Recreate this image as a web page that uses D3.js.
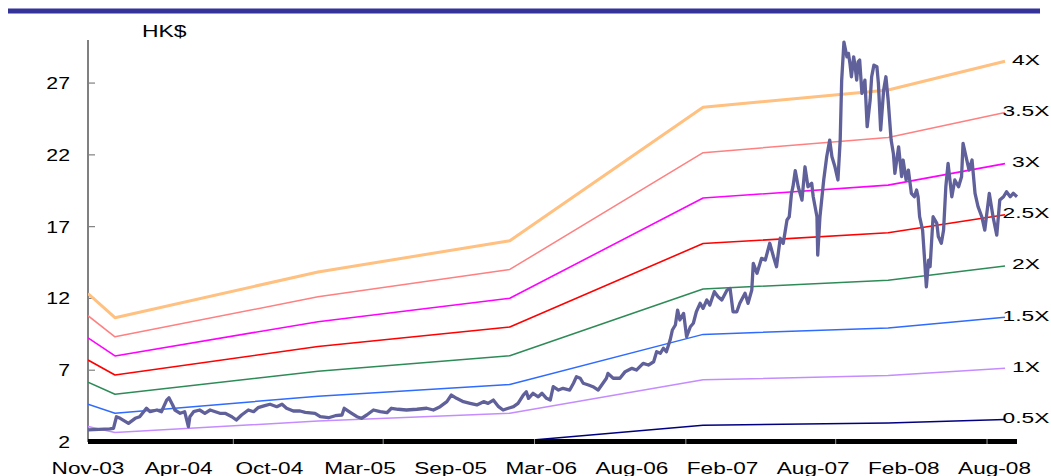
<!DOCTYPE html>
<html>
<head>
<meta charset="utf-8">
<script src="https://cdn.jsdelivr.net/npm/d3@7/dist/d3.min.js"></script>
<style>
  html, body { margin: 0; padding: 0; background: #fff; }
  svg { display: block; font-family: "Liberation Sans", Arial, sans-serif; }
</style>
</head>
<body>
<svg id="chart" width="1051" height="476"></svg>
<script>
// Trading-day index along the category axis (labels every 121 days)
const xLabels = ["Nov-03", "Apr-04", "Oct-04", "Mar-05", "Sep-05", "Mar-06",
                 "Aug-06", "Feb-07", "Aug-07", "Feb-08", "Aug-08"];
const xLabelStep = 121;
const xMinorTicks = [194, 394, 596, 798, 998, 1200];

const yTicks = [2, 7, 12, 17, 22, 27];

// Earnings per share at the points where the P/E bands change slope
const epsDays = [0, 36, 307, 563, 821, 1068, 1224];
const epsValues = [3.085, 2.665, 3.46, 4.005, 6.33, 6.63, 7.13];

const multiples = [4, 3.5, 3, 2.5, 2, 1.5, 1, 0.5];
const multipleLabels = ["4X", "3.5X", "3X", "2.5X", "2X", "1.5X", "1X", "0.5X"];

// Share price (HK$)
const priceDays = [
  0, 29, 34, 38, 43, 54, 63, 69, 78, 83, 92, 98, 105, 108, 113, 116, 123, 129, 134, 136,
  141, 149, 156, 163, 170, 176, 183, 192, 198, 205, 214, 221, 227, 236, 243, 252, 259, 265, 274, 283,
  290, 303, 310, 321, 330, 339, 342, 352, 359, 365, 372, 381, 390, 399, 405, 414, 425, 439, 452, 461,
  470, 479, 485, 492, 501, 510, 519, 528, 534, 541, 548, 554, 561, 568, 574, 581, 585, 588, 594, 601,
  606, 612, 617, 621, 628, 634, 643, 648, 652, 657, 661, 668, 674, 681, 692, 694, 701, 710, 717, 726,
  732, 741, 748, 755, 759, 764, 768, 772, 777, 780, 784, 787, 790, 795, 799, 804, 808, 812, 817, 821,
  826, 830, 836, 841, 846, 853, 857, 861, 866, 870, 877, 881, 886, 888, 893, 899, 904, 910, 915, 919,
  924, 928, 933, 936, 939, 941, 944, 948, 953, 957, 961, 966, 968, 973, 974, 977, 982, 986, 990, 993,
  997, 1001, 1004, 1006, 1009, 1013, 1015, 1017, 1019, 1022, 1024, 1026, 1028, 1030, 1033, 1037, 1040, 1044, 1046, 1049,
  1053, 1055, 1058, 1062, 1065, 1068, 1072, 1075, 1077, 1082, 1086, 1088, 1092, 1095, 1099, 1103, 1106, 1108, 1110, 1114,
  1117, 1119, 1122, 1124, 1128, 1133, 1135, 1139, 1142, 1145, 1148, 1153, 1157, 1162, 1166, 1168, 1173, 1176, 1180, 1184,
  1188, 1193, 1197, 1203, 1208, 1213, 1217, 1222, 1226, 1231, 1235, 1240
];
const priceValues = [
  2.84, 2.91, 2.95, 3.76, 3.65, 3.30, 3.65, 3.76, 4.35, 4.11, 4.23, 4.11, 4.92, 5.08, 4.58, 4.23, 4.00, 4.11, 3.07, 3.76,
  4.11, 4.23, 4.00, 4.23, 4.11, 4.00, 4.00, 3.76, 3.53, 3.88, 4.23, 4.11, 4.39, 4.53, 4.63, 4.46, 4.63, 4.35, 4.16, 4.16,
  4.07, 4.00, 3.76, 3.69, 3.83, 3.88, 4.35, 4.00, 3.76, 3.65, 3.88, 4.23, 4.11, 4.04, 4.35, 4.28, 4.23, 4.28, 4.35, 4.23,
  4.46, 4.81, 5.27, 5.04, 4.81, 4.69, 4.58, 4.81, 4.69, 4.92, 4.46, 4.23, 4.35, 4.46, 4.69, 5.27, 5.50, 5.04, 5.39, 5.15,
  5.39, 5.04, 4.92, 5.85, 5.62, 5.74, 5.62, 6.09, 6.55, 6.44, 6.09, 5.97, 5.85, 5.62, 6.44, 6.78, 6.44, 6.44, 6.90, 7.13,
  7.01, 7.48, 7.36, 7.59, 8.29, 8.18, 8.53, 8.29, 9.10, 9.80, 10.15, 11.19, 10.50, 10.96, 9.33, 10.03, 10.27, 11.07, 11.66, 11.31,
  11.89, 11.54, 12.47, 12.12, 11.89, 12.58, 12.70, 11.07, 11.07, 11.66, 12.36, 11.66, 12.58, 14.44, 13.75, 14.79, 14.67, 15.84, 14.90, 14.21,
  16.19, 15.84, 17.46, 17.69, 19.32, 19.78, 20.90, 19.78, 18.85, 21.17, 19.78, 20.02, 19.08, 17.69, 15.02, 17.69, 20.25, 21.87, 23.03, 21.87,
  21.17, 20.25, 23.03, 27.21, 29.85, 28.83, 29.07, 28.37, 27.44, 28.83, 28.14, 27.21, 28.48, 28.60, 26.28, 27.21, 23.96, 25.82, 27.44, 28.25,
  28.14, 26.98, 23.73, 26.51, 27.44, 25.82, 23.03, 22.10, 20.71, 22.56, 20.48, 21.64, 20.25, 20.94, 19.32, 19.08, 19.55, 19.08, 17.69, 16.76,
  14.44, 12.81, 14.67, 14.21, 17.69, 17.23, 16.30, 15.84, 16.76, 19.78, 21.41, 19.08, 20.25, 19.78, 20.48, 22.80, 21.64, 20.94, 21.64, 19.32,
  18.39, 17.69, 16.76, 19.32, 17.69, 16.41, 18.85, 19.08, 19.43, 19.08, 19.32, 19.08
];

const bandStyles = [
  { color: "#ffc080", width: 3 },
  { color: "#ff8080", width: 1.5 },
  { color: "#ff00ff", width: 1.6 },
  { color: "#ff0000", width: 1.6 },
  { color: "#2e8b57", width: 1.5 },
  { color: "#2f6bff", width: 1.5 },
  { color: "#c58cff", width: 1.5 },
  { color: "#000080", width: 1.5 }
];

const svg = d3.select("#chart");
const plot = { left: 88, right: 1017, top: 40, bottom: 442 };

const x = d3.scaleLinear().domain([0, 1240]).range([plot.left, plot.right]);
const y = d3.scaleLinear().domain([2, 30]).range([plot.bottom, plot.top]);

// Title rule across the top
svg.append("rect")
  .attr("x", 8).attr("y", 8.5).attr("width", 1032).attr("height", 5)
  .attr("fill", "#333399");

// Clip for data lines
svg.append("defs").append("clipPath").attr("id", "plotClip")
  .append("rect")
  .attr("x", plot.left).attr("y", plot.top - 2)
  .attr("width", plot.right - plot.left + 2)
  .attr("height", plot.bottom - plot.top + 4);

// Y axis
const yAxis = svg.append("g").attr("class", "y-axis");
yAxis.append("line")
  .attr("x1", plot.left).attr("x2", plot.left)
  .attr("y1", plot.top).attr("y2", plot.bottom)
  .attr("stroke", "#808080").attr("stroke-width", 2);
yAxis.selectAll("line.tick").data(yTicks).join("line")
  .attr("class", "tick")
  .attr("x1", plot.left).attr("x2", plot.left + 7)
  .attr("y1", d => y(d)).attr("y2", d => y(d))
  .attr("stroke", "#808080").attr("stroke-width", 1.2);
yAxis.selectAll("text").data(yTicks).join("text")
  .attr("transform", d => `translate(70,${y(d)}) scale(1.25,1)`)
  .attr("text-anchor", "end")
  .attr("dy", "0.35em")
  .attr("font-size", 17)
  .attr("fill", "#000")
  .text(d => d);

svg.append("text")
  .attr("transform", "translate(142,37) scale(1.35,1)")
  .attr("font-size", 17)
  .attr("fill", "#000")
  .text("HK$");

// P/E bands
const bandLine = d3.line()
  .x(d => x(d.day))
  .y(d => y(d.value));

const bandData = multiples.map((m, i) => ({
  multiple: m,
  label: multipleLabels[i],
  style: bandStyles[i],
  points: epsDays.map((day, j) => ({ day, value: epsValues[j] * m }))
}));

const gBands = svg.append("g").attr("clip-path", "url(#plotClip)");

// X axis bar
svg.append("line")
  .attr("x1", plot.left).attr("x2", plot.right)
  .attr("y1", plot.bottom - 0.5).attr("y2", plot.bottom - 0.5)
  .attr("stroke", "#000").attr("stroke-width", 5);
svg.selectAll("line.xminor").data(xMinorTicks).join("line")
  .attr("class", "xminor")
  .attr("x1", d => x(d)).attr("x2", d => x(d))
  .attr("y1", plot.bottom - 3).attr("y2", plot.bottom + 2)
  .attr("stroke", "#9a9a9a").attr("stroke-width", 1);

gBands.selectAll("path").data(bandData).join("path")
  .attr("d", d => bandLine(d.points))
  .attr("fill", "none")
  .attr("stroke", d => d.style.color)
  .attr("stroke-width", d => d.style.width)
  .attr("stroke-linejoin", "round");

// Share price
const priceData = priceDays.map((day, i) => ({ day, value: priceValues[i] }));
svg.append("g").attr("clip-path", "url(#plotClip)")
  .append("path")
  .attr("d", bandLine(priceData))
  .attr("fill", "none")
  .attr("stroke", "#60609a")
  .attr("stroke-width", 3.3)
  .attr("stroke-linejoin", "round");

// Band labels at the end of each band
svg.selectAll("text.band").data(bandData).join("text")
  .attr("class", "band")
  .attr("transform", d => {
    const last = d.points[d.points.length - 1];
    return `translate(1026,${y(last.value) - 2}) scale(1.47,1)`;
  })
  .attr("text-anchor", "middle")
  .attr("dy", "0.35em")
  .attr("font-size", 15.5)
  .attr("fill", "#000")
  .text(d => d.label);

// X labels
svg.selectAll("text.xlab").data(xLabels).join("text")
  .attr("class", "xlab")
  .attr("transform", (d, i) => `translate(${x(i * xLabelStep)},474) scale(1.33,1)`)
  .attr("text-anchor", "middle")
  .attr("font-size", 17)
  .attr("fill", "#000")
  .text(d => d);
</script>
</body>
</html>
